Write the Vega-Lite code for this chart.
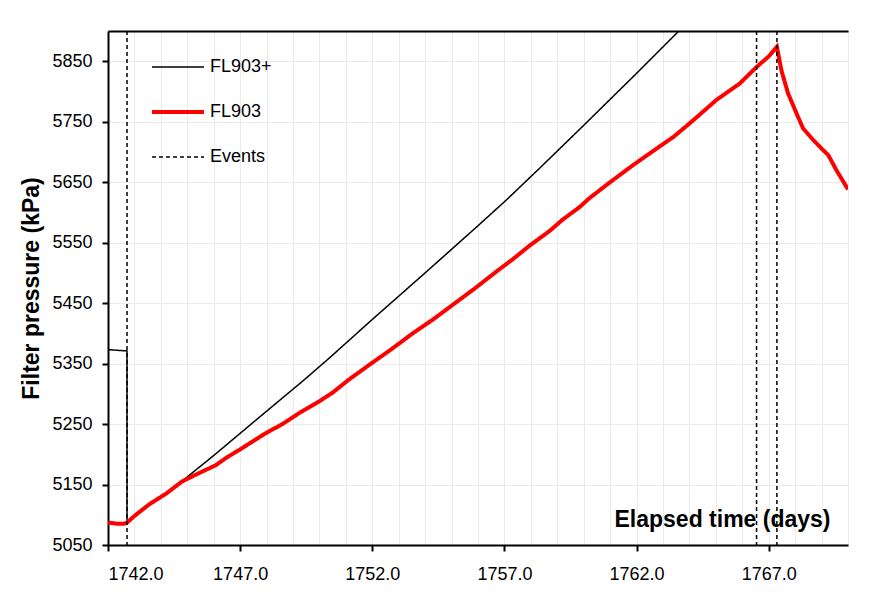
{
  "$schema": "https://vega.github.io/schema/vega-lite/v6.json",
  "width": 740,
  "height": 514,
  "autosize": {"type": "none"},
  "padding": {"left": 108, "top": 31, "right": 33, "bottom": 54},
  "background": "white",
  "config": {
    "font": "Liberation Sans",
    "view": {"stroke": "#999", "strokeWidth": 1}
  },
  "data": {
    "values": [
      {"series": "FL903+", "ord": 1, "day": 1742.0, "kPa": 5373},
      {"series": "FL903+", "ord": 2, "day": 1742.72, "kPa": 5371},
      {"series": "FL903+", "ord": 3, "day": 1742.72, "kPa": 5087},
      {"series": "FL903+", "ord": 4, "day": 1743.6, "kPa": 5117},
      {"series": "FL903+", "ord": 5, "day": 1744.56, "kPa": 5147},
      {"series": "FL903+", "ord": 6, "day": 1746.0, "kPa": 5198},
      {"series": "FL903+", "ord": 7, "day": 1747.5, "kPa": 5253},
      {"series": "FL903+", "ord": 8, "day": 1749.42, "kPa": 5323},
      {"series": "FL903+", "ord": 9, "day": 1750.37, "kPa": 5359},
      {"series": "FL903+", "ord": 10, "day": 1752.0, "kPa": 5423},
      {"series": "FL903+", "ord": 11, "day": 1754.0, "kPa": 5500},
      {"series": "FL903+", "ord": 12, "day": 1756.0, "kPa": 5578},
      {"series": "FL903+", "ord": 13, "day": 1757.06, "kPa": 5620},
      {"series": "FL903+", "ord": 14, "day": 1758.33, "kPa": 5673},
      {"series": "FL903+", "ord": 15, "day": 1760.0, "kPa": 5744},
      {"series": "FL903+", "ord": 16, "day": 1762.0, "kPa": 5830},
      {"series": "FL903+", "ord": 17, "day": 1763.6, "kPa": 5900},
      {"series": "FL903", "ord": 1, "day": 1742.0, "kPa": 5087},
      {"series": "FL903", "ord": 2, "day": 1742.2, "kPa": 5086},
      {"series": "FL903", "ord": 3, "day": 1742.4, "kPa": 5085},
      {"series": "FL903", "ord": 4, "day": 1742.6, "kPa": 5085},
      {"series": "FL903", "ord": 5, "day": 1742.72, "kPa": 5087},
      {"series": "FL903", "ord": 6, "day": 1743.0, "kPa": 5098},
      {"series": "FL903", "ord": 7, "day": 1743.55, "kPa": 5117},
      {"series": "FL903", "ord": 8, "day": 1744.2, "kPa": 5135},
      {"series": "FL903", "ord": 9, "day": 1744.8, "kPa": 5155},
      {"series": "FL903", "ord": 10, "day": 1745.4, "kPa": 5168},
      {"series": "FL903", "ord": 11, "day": 1746.08, "kPa": 5182},
      {"series": "FL903", "ord": 12, "day": 1746.5, "kPa": 5195},
      {"series": "FL903", "ord": 13, "day": 1746.96, "kPa": 5207},
      {"series": "FL903", "ord": 14, "day": 1747.5, "kPa": 5222},
      {"series": "FL903", "ord": 15, "day": 1747.97, "kPa": 5235},
      {"series": "FL903", "ord": 16, "day": 1748.6, "kPa": 5250},
      {"series": "FL903", "ord": 17, "day": 1749.23, "kPa": 5268},
      {"series": "FL903", "ord": 18, "day": 1749.9, "kPa": 5285},
      {"series": "FL903", "ord": 19, "day": 1750.5, "kPa": 5302},
      {"series": "FL903", "ord": 20, "day": 1751.1, "kPa": 5323},
      {"series": "FL903", "ord": 21, "day": 1751.89, "kPa": 5348},
      {"series": "FL903", "ord": 22, "day": 1752.7, "kPa": 5373},
      {"series": "FL903", "ord": 23, "day": 1753.53, "kPa": 5400},
      {"series": "FL903", "ord": 24, "day": 1754.3, "kPa": 5423},
      {"series": "FL903", "ord": 25, "day": 1755.04, "kPa": 5447},
      {"series": "FL903", "ord": 26, "day": 1755.9, "kPa": 5475},
      {"series": "FL903", "ord": 27, "day": 1756.69, "kPa": 5502},
      {"series": "FL903", "ord": 28, "day": 1757.3, "kPa": 5522},
      {"series": "FL903", "ord": 29, "day": 1757.95, "kPa": 5545},
      {"series": "FL903", "ord": 30, "day": 1758.7, "kPa": 5569},
      {"series": "FL903", "ord": 31, "day": 1759.2, "kPa": 5588},
      {"series": "FL903", "ord": 32, "day": 1759.85, "kPa": 5609},
      {"series": "FL903", "ord": 33, "day": 1760.2, "kPa": 5623},
      {"series": "FL903", "ord": 34, "day": 1761.0, "kPa": 5650},
      {"series": "FL903", "ord": 35, "day": 1761.86, "kPa": 5678},
      {"series": "FL903", "ord": 36, "day": 1762.87, "kPa": 5709},
      {"series": "FL903", "ord": 37, "day": 1763.4, "kPa": 5725},
      {"series": "FL903", "ord": 38, "day": 1764.0, "kPa": 5747},
      {"series": "FL903", "ord": 39, "day": 1764.5, "kPa": 5766},
      {"series": "FL903", "ord": 40, "day": 1765.02, "kPa": 5786},
      {"series": "FL903", "ord": 41, "day": 1765.9, "kPa": 5813},
      {"series": "FL903", "ord": 42, "day": 1766.53, "kPa": 5840},
      {"series": "FL903", "ord": 43, "day": 1767.0, "kPa": 5858},
      {"series": "FL903", "ord": 44, "day": 1767.31, "kPa": 5874},
      {"series": "FL903", "ord": 45, "day": 1767.48, "kPa": 5835},
      {"series": "FL903", "ord": 46, "day": 1767.73, "kPa": 5797},
      {"series": "FL903", "ord": 47, "day": 1768.05, "kPa": 5764},
      {"series": "FL903", "ord": 48, "day": 1768.3, "kPa": 5739},
      {"series": "FL903", "ord": 49, "day": 1768.68, "kPa": 5720},
      {"series": "FL903", "ord": 50, "day": 1769.06, "kPa": 5703},
      {"series": "FL903", "ord": 51, "day": 1769.25, "kPa": 5695},
      {"series": "FL903", "ord": 52, "day": 1769.56, "kPa": 5670},
      {"series": "FL903", "ord": 53, "day": 1770.0, "kPa": 5638},
      {"series": "Events", "ord": 1, "day": 1742.72},
      {"series": "Events", "ord": 2, "day": 1766.54},
      {"series": "Events", "ord": 3, "day": 1767.31}
    ]
  },
  "layer": [
    {
      "transform": [{"filter": "datum.series === 'Events'"}],
      "mark": {"type": "rule", "opacity": 0},
      "encoding": {
        "x": {
          "field": "day", "type": "quantitative",
          "scale": {"domain": [1742, 1770], "nice": false, "zero": false},
          "axis": {
            "orient": "top", "title": null, "labels": false, "ticks": false,
            "values": [1742,1743,1744,1745,1746,1747,1748,1749,1750,1751,1752,1753,1754,1755,1756,1757,1758,1759,1760,1761,1762,1763,1764,1765,1766,1767,1768,1769,1770],
            "grid": true, "gridColor": "#ebebeb", "gridWidth": 1,
            "domainColor": "black", "domainWidth": 2
          }
        }
      }
    },
    {
      "layer": [
        {
          "transform": [{"filter": "datum.series === 'FL903+'"}],
          "mark": {"type": "line", "strokeCap": "butt", "clip": true, "strokeWidth": 1.5},
          "encoding": {
            "x": {
              "field": "day", "type": "quantitative",
              "axis": {
                "title": "Elapsed time (days)",
                "titleFont": "Liberation Sans", "titleFontSize": 23, "titleFontWeight": "bold", "titleColor": "black",
                "titleX": 614, "titleY": -26, "titleAlign": "center", "titleBaseline": "middle", "titleAnchor": null,
                "values": [1742, 1747, 1752, 1757, 1762, 1767],
                "format": ".1f", "labelOverlap": false,
                "labelFontSize": 18, "labelColor": "black", "labelPadding": 14,
                "tickColor": "black", "tickSize": 6, "tickWidth": 2,
                "domainColor": "black", "domainWidth": 2,
                "grid": false
              }
            },
            "y": {
              "field": "kPa", "type": "quantitative",
              "scale": {"domain": [5050, 5900], "nice": false, "zero": false},
              "axis": {
                "title": "Filter pressure (kPa)",
                "titleFont": "Liberation Sans", "titleFontSize": 23, "titleFontWeight": "bold", "titleColor": "black", "titlePadding": 8,
                "values": [5050,5150,5250,5350,5450,5550,5650,5750,5850],
                "format": "d", "labelOverlap": false,
                "labelFontSize": 18, "labelColor": "black", "labelPadding": 10,
                "tickColor": "black", "tickSize": 6, "tickWidth": 2,
                "domainColor": "black", "domainWidth": 2,
                "grid": true, "gridColor": "#ebebeb", "gridWidth": 1
              }
            },
            "order": {"field": "ord", "type": "quantitative"},
            "color": {
              "field": "series", "type": "nominal",
              "scale": {"domain": ["FL903+", "FL903", "Events"], "range": ["black", "#ff0000", "black"]},
              "legend": {
                "title": null, "orient": "none", "legendX": 61, "legendY": 27,
                "symbolType": "stroke", "symbolSize": 2704,
                "labelFontSize": 18, "labelColor": "black", "labelOffset": 23,
                "rowPadding": 27, "padding": 0,
                "encode": {
                  "symbols": {
                    "update": {
                      "strokeWidth": {"signal": "datum.value === 'FL903' ? 4 : 1.5"}
                    }
                  }
                }
              }
            },
            "strokeDash": {
              "field": "series", "type": "nominal",
              "scale": {"domain": ["FL903+", "FL903", "Events"], "range": [[1, 0], [1, 0], [4, 3]]}
            }
          }
        },
        {
          "transform": [{"filter": "datum.series === 'FL903'"}],
          "mark": {"type": "line", "strokeCap": "butt", "clip": true, "strokeWidth": 4},
          "encoding": {
            "x": {"field": "day", "type": "quantitative"},
            "y": {"field": "kPa", "type": "quantitative"},
            "order": {"field": "ord", "type": "quantitative"},
            "color": {"field": "series", "type": "nominal"},
            "strokeDash": {"field": "series", "type": "nominal"}
          }
        },
        {
          "transform": [{"filter": "datum.series === 'Events'"}],
          "mark": {"type": "rule", "strokeWidth": 1.5},
          "encoding": {
            "x": {"field": "day", "type": "quantitative"},
            "color": {"field": "series", "type": "nominal"},
            "strokeDash": {"field": "series", "type": "nominal"}
          }
        }
      ]
    }
  ],
  "resolve": {"axis": {"x": "independent"}}
}
